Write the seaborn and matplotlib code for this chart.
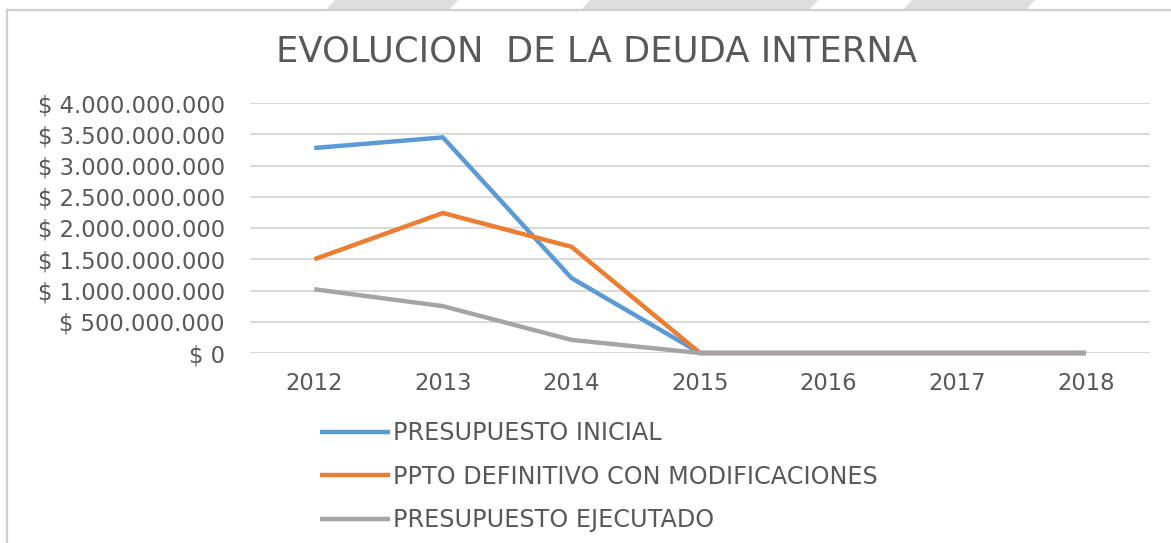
import matplotlib
matplotlib.use("Agg")
import matplotlib.pyplot as plt
import matplotlib.patches as mpatches
from matplotlib.ticker import FuncFormatter, MultipleLocator
import seaborn as sns
import pandas as pd

years = ["2012", "2013", "2014", "2015", "2016", "2017", "2018"]
presupuesto_inicial = [3.28e9, 3.45e9, 1.20e9, 0, 0, 0, 0]
ppto_definitivo = [1.50e9, 2.24e9, 1.70e9, 0, 0, 0, 0]
presupuesto_ejecutado = [1.02e9, 0.75e9, 0.21e9, 0, 0, 0, 0]
series_names = ["PRESUPUESTO INICIAL", "PPTO DEFINITIVO CON MODIFICACIONES", "PRESUPUESTO EJECUTADO"]
colors = ["#5B9BD5", "#ED7D31", "#A5A5A5"]
title = "EVOLUCION  DE LA DEUDA INTERNA"

rows = []
for name, vals in zip(series_names, [presupuesto_inicial, ppto_definitivo, presupuesto_ejecutado]):
    for y, v in zip(years, vals):
        rows.append({"Año": y, "Valor": v, "Serie": name})
df = pd.DataFrame(rows)

sns.set_theme(style="white")
plt.rcParams["font.family"] = ["DejaVu Sans"]
TXT = "#595959"

W, H = 1171, 543
fig = plt.figure(figsize=(W / 100, H / 100), dpi=100, facecolor="white")

# background watermark stripes above the chart box
for x0, x1 in [(330, 453), (585, 813), (907, 1030)]:
    poly = mpatches.Polygon(
        [((x0 + 5) / W, 1.0), ((x1 + 5) / W, 1.0), ((x1 - 5) / W, 1 - 11 / H), ((x0 - 5) / W, 1 - 11 / H)],
        closed=True, transform=fig.transFigure, facecolor="#dedede", edgecolor="none", zorder=-3)
    fig.patches.append(poly)

box = mpatches.Rectangle((7 / W, -0.1), 2.0, 1 - 10 / H + 0.1, transform=fig.transFigure,
                         facecolor="white", edgecolor="#d0d0d0", linewidth=1.6, zorder=-2)
fig.patches.append(box)

ax = fig.add_axes([250 / W, (H - 353) / H, 900 / W, 250 / H])
ax.set_facecolor("none")
ax.set_zorder(2)

sns.lineplot(data=df, x="Año", y="Valor", hue="Serie", hue_order=series_names,
             palette=colors, linewidth=3.2, estimator=None, sort=False, ax=ax)
for ln in ax.lines:
    ln.set_clip_on(False)
    ln.set_solid_capstyle("butt")
    ln.set_solid_joinstyle("miter")

ax.set_ylim(0, 4e9)
ax.set_xlim(-0.5, len(years) - 0.5)
ax.yaxis.set_major_locator(MultipleLocator(5e8))
ax.yaxis.set_major_formatter(FuncFormatter(lambda v, p: "$ " + f"{int(round(v)):,}".replace(",", ".")))
ax.grid(axis="y", color="#d9d9d9", linewidth=1.4)
ax.grid(axis="x", visible=False)
ax.set_axisbelow(True)
for s in ax.spines.values():
    s.set_visible(False)
ax.tick_params(axis="both", length=0, colors=TXT, labelsize=16.3)
ax.tick_params(axis="y", pad=18)
ax.tick_params(axis="x", pad=14)
ax.set_xlabel("")
ax.set_ylabel("")

handles, labels = ax.get_legend_handles_labels()
leg = ax.legend(handles, labels, loc="upper left", bbox_to_anchor=(320 / W, 1 - 421 / H),
                bbox_transform=fig.transFigure, frameon=False, fontsize=17.2,
                handlelength=2.95, handletextpad=0.12, labelspacing=0.82,
                borderpad=0, borderaxespad=0)
for t in leg.get_texts():
    t.set_color(TXT)
for h in leg.get_lines():
    h.set_linewidth(3.2)

fig.text(597 / W, 1 - 62 / H, title, ha="center", va="baseline", fontsize=25.5, color=TXT)

fig.savefig("out.png", dpi=100, facecolor="white")
